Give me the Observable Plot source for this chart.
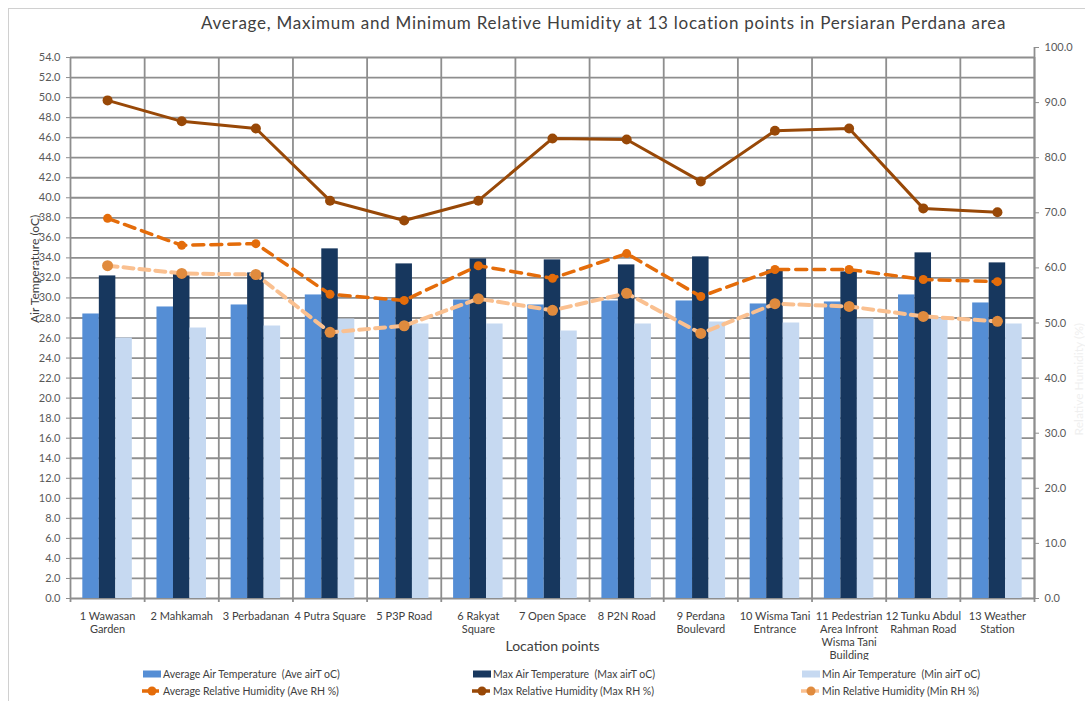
<!DOCTYPE html>
<html><head><meta charset="utf-8">
<script src="https://cdn.jsdelivr.net/npm/d3@7"></script>
<script src="https://cdn.jsdelivr.net/npm/@observablehq/plot@0.6"></script>
<style>
body{margin:0;background:#fff;font-family:Lato,"Open Sans",sans-serif;}
#wrap{position:relative;width:1085px;height:701px;overflow:hidden;}
#frame{position:absolute;left:8px;top:8px;width:1100px;height:720px;border:1px solid #d0d0d0;box-sizing:border-box;}
#title{position:absolute;left:201px;top:12px;white-space:nowrap;font-size:17px;letter-spacing:0.75px;color:#404040;}
#chart{position:absolute;left:0;top:40px;}
.lg{position:absolute;white-space:pre;font-size:10.5px;color:#404040;line-height:14px;}
.lg svg{position:absolute;}
</style></head>
<body><div id="wrap"><div id="frame"></div><div id="title">Average, Maximum and Minimum Relative Humidity at 13 location points in Persiaran Perdana area</div><div id="chart"></div><div id="legend"></div></div>
<script>
const categories = ["1 Wawasan\nGarden","2 Mahkamah","3 Perbadanan","4 Putra Square","5 P3P Road","6 Rakyat\nSquare","7 Open Space","8 P2N Road","9 Perdana\nBoulevard","10 Wisma Tani\nEntrance","11 Pedestrian\nArea Infront\nWisma Tani\nBuilding","12 Tunku Abdul\nRahman Road","13 Weather\nStation"];
const aveAirT = [28.4,29.1,29.3,30.3,29.8,29.8,29.3,29.7,29.7,29.4,29.6,30.3,29.5];
const maxAirT = [32.2,32.4,32.5,34.9,33.4,33.9,33.8,33.3,34.1,32.8,32.6,34.5,33.5];
const minAirT = [26.0,27.0,27.2,27.9,27.4,27.4,26.7,27.4,27.6,27.5,27.9,28.0,27.4];
const aveRH = [69.0,64.1,64.4,55.2,54.1,60.4,58.1,62.6,54.8,59.7,59.7,57.9,57.5];
const maxRH = [90.4,86.6,85.3,72.2,68.6,72.2,83.5,83.3,75.7,84.9,85.3,70.8,70.1];
const minRH = [60.4,59.0,58.8,48.3,49.5,54.4,52.3,55.4,48.1,53.5,53.0,51.2,50.3];
const leftTicks = d3.range(0, 54.001, 2);
const rightTicks = d3.range(0, 100.001, 10);
const seriesNames = ["Average Air Temperature  (Ave airT oC)","Max Air Temperature  (Max airT oC)","Min Air Temperature  (Min airT oC)","Average Relative Humidity (Ave RH %)","Max Relative Humidity (Max RH %)","Min Relative Humidity (Min RH %)"];
const colors = {ave:"#558ED5", max:"#17375E", min:"#C6D9F1", aveRH:"#E46C0A", maxRH:"#984807", minRHLine:"#FAC090", minRHDot:"#E08B3E"};

const rows = categories.map((c,i)=>({i, c, aveAirT:aveAirT[i], maxAirT:maxAirT[i], minAirT:minAirT[i], aveRH:aveRH[i], maxRH:maxRH[i], minRH:minRH[i]}));
const k = 55/100; // right axis (RH) -> left axis units
const bw = 0.2225; // bar width in category units
const grid = "#8e8e8e";
const cx = d => d.i + 0.5;

const plot = Plot.plot({
  width: 1085, height: 620,
  marginLeft: 70, marginRight: 51, marginTop: 7, marginBottom: 62,
  style: {fontFamily: "Lato, 'Open Sans', sans-serif", background: "transparent"},
  x: {domain: [0, 13]},
  y: {domain: [0, 55]},
  marks: [
    Plot.ruleY(leftTicks, {x1: 0, x2: 13, stroke: grid, strokeWidth: 1.8}),
    Plot.ruleX(d3.range(0, 14), {y1: -0.4, y2: 54, stroke: grid, strokeWidth: 1.8}),
    Plot.ruleX([13], {y1: 0, y2: 55, stroke: grid, strokeWidth: 1.8}),
    Plot.rectY(rows, {x1: d => cx(d) - 1.5*bw, x2: d => cx(d) - 0.5*bw, y1: 0, y2: "aveAirT", fill: colors.ave}),
    Plot.rectY(rows, {x1: d => cx(d) - 0.5*bw, x2: d => cx(d) + 0.5*bw, y1: 0, y2: "maxAirT", fill: colors.max}),
    Plot.rectY(rows, {x1: d => cx(d) + 0.5*bw, x2: d => cx(d) + 1.5*bw, y1: 0, y2: "minAirT", fill: colors.min}),
    Plot.line(rows, {x: cx, y: d => d.aveRH*k, stroke: colors.aveRH, strokeWidth: 3.5, strokeDasharray: "11,7"}),
    Plot.dot(rows, {x: cx, y: d => d.aveRH*k, fill: colors.aveRH, r: 4.5}),
    Plot.line(rows, {x: cx, y: d => d.maxRH*k, stroke: colors.maxRH, strokeWidth: 3}),
    Plot.dot(rows, {x: cx, y: d => d.maxRH*k, fill: colors.maxRH, r: 5}),
    Plot.line(rows, {x: cx, y: d => d.minRH*k, stroke: colors.minRHLine, strokeWidth: 4, strokeDasharray: "10,6"}),
    Plot.dot(rows, {x: cx, y: d => d.minRH*k, fill: colors.minRHDot, r: 5.5}),
    Plot.axisY(leftTicks, {anchor: "left", tickSize: 4, tickPadding: 6, stroke: grid, tickFormat: d => d.toFixed(1), fontSize: 11, color: "#595959", label: null}),
    Plot.axisY(rightTicks.map(v => v*k), {anchor: "right", tickSize: 4, tickPadding: 6, stroke: grid, tickFormat: d => (d/k).toFixed(1), fontSize: 11, color: "#595959", label: null}),
    Plot.axisX(d3.range(13).map(i => i + 0.5), {tickSize: 0, tickPadding: 12, tickFormat: v => categories[Math.floor(v)], fontSize: 11, lineHeight: 1.18, color: "#404040", label: null}),
    Plot.text(["Location points"], {frameAnchor: "bottom", dy: 52, fontSize: 14, fill: "#404040"}),
    Plot.text(["Air Temperature (oC)"], {frameAnchor: "left", dx: -35, rotate: -90, fontSize: 12, fill: "#404040"}),
    Plot.text(["Relative Humidity (%)"], {frameAnchor: "right", dx: 45, rotate: -90, fontSize: 12, fill: "#efefef"})
  ]
});
document.getElementById("chart").appendChild(plot);

// legend
const legend = document.getElementById("legend");
const items = [
  {name: seriesNames[0], type: "bar", color: colors.ave, x: 143, y: 674},
  {name: seriesNames[1], type: "bar", color: colors.max, x: 473, y: 674},
  {name: seriesNames[2], type: "bar", color: colors.min, x: 802, y: 674},
  {name: seriesNames[3], type: "line", color: colors.aveRH, dot: colors.aveRH, x: 141, y: 691, dash: "6,5"},
  {name: seriesNames[4], type: "line", color: colors.maxRH, dot: colors.maxRH, x: 471, y: 691, dash: null},
  {name: seriesNames[5], type: "line", color: colors.minRHLine, dot: colors.minRHDot, x: 800, y: 691, dash: null}
];
items.forEach(it => {
  const d = document.createElement("div");
  d.className = "lg";
  d.style.left = it.x + "px";
  d.style.top = (it.y - 7) + "px";
  const sw = 20;
  let sym;
  if (it.type === "bar") {
    sym = `<svg width="${sw}" height="14" style="left:0;top:0"><rect x="0" y="3.5" width="18" height="7" fill="${it.color}"/></svg>`;
  } else {
    sym = `<svg width="${sw}" height="14" style="left:0;top:0"><line x1="1" x2="19" y1="7" y2="7" stroke="${it.color}" stroke-width="3.5" ${it.dash ? `stroke-dasharray="${it.dash}"` : ""}/><circle cx="11" cy="7" r="4.5" fill="${it.dot}"/></svg>`;
  }
  d.innerHTML = sym + `<span style="margin-left:${it.type === "bar" ? 20 : 22}px">${it.name}</span>`;
  legend.appendChild(d);
});
</script>
</body></html>
